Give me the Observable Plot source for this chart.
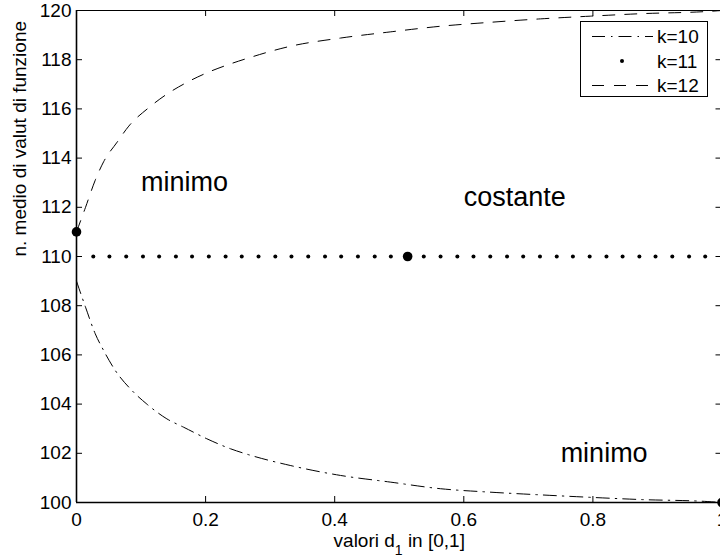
<!DOCTYPE html>
<html>
<head>
<meta charset="utf-8">
<script src="https://cdn.jsdelivr.net/npm/d3@7"></script>
<script src="https://cdn.jsdelivr.net/npm/@observablehq/plot@0.6"></script>
<style>
  html, body { margin: 0; padding: 0; background: #fff; overflow: hidden; }
  #chart { width: 720px; height: 559px; }
</style>
</head>
<body>
<div id="chart"></div>
<script>
// ---- data ----
const xTicks = [0, 0.2, 0.4, 0.6, 0.8, 1];
const xTickLabels = ["0", "0.2", "0.4", "0.6", "0.8", "1"];
const yTicks = [100, 102, 104, 106, 108, 110, 112, 114, 116, 118, 120];
const yTickLabels = ["100", "102", "104", "106", "108", "110", "112", "114", "116", "118", "120"];

const seriesNames = ["k=10", "k=11", "k=12"];

// k=12 (dashed, upper curve)
const k12X = [0, 0.014, 0.029, 0.042, 0.063, 0.081, 0.112, 0.140, 0.169, 0.205, 0.233, 0.264, 0.332, 0.409, 0.486, 0.564, 0.641, 0.719, 0.796, 0.874, 0.977, 1];
const k12Y = [111.0, 112.0, 113.1, 113.85, 114.65, 115.3, 116.05, 116.6, 117.05, 117.5, 117.78, 118.05, 118.55, 118.88, 119.13, 119.36, 119.52, 119.66, 119.77, 119.87, 119.96, 120];

// k=10 (dash-dot, lower curve)
const k10X = [0, 0.004, 0.014, 0.029, 0.042, 0.060, 0.086, 0.109, 0.140, 0.166, 0.202, 0.239, 0.262, 0.332, 0.409, 0.486, 0.564, 0.641, 0.719, 0.796, 0.874, 0.977, 1];
const k10Y = [109.0, 108.69, 107.94, 106.86, 106.18, 105.37, 104.55, 104.0, 103.4, 103.06, 102.59, 102.18, 101.98, 101.5, 101.1, 100.83, 100.56, 100.42, 100.31, 100.21, 100.12, 100.04, 100];

// k=11 (dotted, constant)
const k11X = [0.026, 0.051, 0.077, 0.103, 0.128, 0.154, 0.179, 0.205, 0.231, 0.256, 0.282, 0.308, 0.333, 0.359, 0.385, 0.410, 0.436, 0.462, 0.487, 0.513, 0.538, 0.564, 0.590, 0.615, 0.641, 0.667, 0.692, 0.718, 0.744, 0.769, 0.795, 0.821, 0.846, 0.872, 0.897, 0.923, 0.949, 0.974, 1.000];
const k11Y = [110, 110, 110, 110, 110, 110, 110, 110, 110, 110, 110, 110, 110, 110, 110, 110, 110, 110, 110, 110, 110, 110, 110, 110, 110, 110, 110, 110, 110, 110, 110, 110, 110, 110, 110, 110, 110, 110, 110];

// highlighted optima (big dots)
const optX = [0, 0.513, 1];
const optY = [111, 110, 100];

// annotations
const annLabels = ["minimo", "costante", "minimo"];
const annX = [0.1, 0.6, 0.75];
const annY = [113, 112.4, 102];

const xLabel = "valori d1 in [0,1]";
const yLabel = "n. medio di valut di funzione";

// ---- build tables ----
const k12 = k12X.map((x, i) => ({x, y: k12Y[i]}));
const k10 = k10X.map((x, i) => ({x, y: k10Y[i]}));
const k11 = k11X.map((x, i) => ({x, y: k11Y[i]}));
const opt = optX.map((x, i) => ({x, y: optY[i]}));
const ann = annLabels.map((t, i) => ({t, x: annX[i], y: annY[i]}));

const W = 720, H = 559;
const mL = 76, mR = -1.5, mT = 10, mB = 57;
const frameW = W - mL - mR, frameH = H - mT - mB;
const tickLen = 6;
const font = "'Liberation Sans', Arial, Helvetica, sans-serif";

const dashDot = "13,6,1.5,6";
const dashed = "12,10";

const chart = Plot.plot({
  width: W,
  height: H,
  marginLeft: mL,
  marginRight: mR,
  marginTop: mT,
  marginBottom: mB,
  style: {fontFamily: font, fontSize: "19px", background: "white", color: "black"},
  x: {domain: [0, 1]},
  y: {domain: [100, 120]},
  marks: [
    Plot.frame({stroke: "black", strokeWidth: 1}),
    // inward ticks
    Plot.ruleX(xTicks, {x: d => d, insetTop: frameH - tickLen, stroke: "black", strokeWidth: 1}),
    Plot.ruleX(xTicks, {x: d => d, insetBottom: frameH - tickLen, stroke: "black", strokeWidth: 1}),
    Plot.ruleY(yTicks, {y: d => d, insetRight: frameW - tickLen, stroke: "black", strokeWidth: 1}),
    Plot.ruleY(yTicks, {y: d => d, insetLeft: frameW - tickLen, stroke: "black", strokeWidth: 1}),
    // heavier left and bottom axis lines
    Plot.ruleX([0], {stroke: "black", strokeWidth: 1.6}),
    Plot.ruleY([100], {stroke: "black", strokeWidth: 1.6}),
    Plot.axisX({ticks: xTicks, tickSize: 0, tickPadding: 10, tickFormat: (d, i) => xTickLabels[i], label: null, fontSize: 19}),
    Plot.axisY({ticks: yTicks, tickSize: 0, tickPadding: 5, tickFormat: (d, i) => yTickLabels[i], label: null, fontSize: 19}),
    // axis titles
    Plot.text([xLabel], {frameAnchor: "bottom", dy: 38.6, text: d => d, fontSize: 19, lineAnchor: "middle"}),
    Plot.text([yLabel], {frameAnchor: "left", dx: -57, rotate: -90, text: d => d, fontSize: 19, lineAnchor: "middle"}),
    // series
    Plot.line(k10, {x: "x", y: "y", curve: "monotone-x", stroke: "black", strokeWidth: 1, strokeDasharray: dashDot}),
    Plot.line(k12, {x: "x", y: "y", curve: "monotone-x", stroke: "black", strokeWidth: 1, strokeDasharray: dashed}),
    Plot.dot(k11, {x: "x", y: "y", r: 2, fill: "black", stroke: null}),
    Plot.dot(opt, {x: "x", y: "y", r: 4.8, fill: "black", stroke: null}),
    // annotations
    Plot.text(ann, {x: "x", y: "y", text: "t", textAnchor: "start", lineAnchor: "middle", fontSize: 27})
  ]
});

document.getElementById("chart").appendChild(chart);

// subscript in x label
const svg = d3.select(chart);
svg.selectAll("text").each(function() {
  if (this.textContent === xLabel) {
    const t = d3.select(this);
    t.text(null);
    t.append("tspan").text("valori d");
    t.append("tspan").attr("dy", 8).attr("font-size", 14).text("1");
    t.append("tspan").attr("dy", -8).text(" in [0,1]");
  }
});

// legend box (top-right)
const lg = svg.append("g").attr("font-family", font).attr("font-size", 19).attr("text-anchor", "start");
lg.append("rect").attr("x", 580.5).attr("y", 21.5).attr("width", 127).attr("height", 75)
  .attr("fill", "white").attr("stroke", "black").attr("stroke-width", 1);
const rows = [36.5, 61, 85.5];
lg.append("line").attr("x1", 592).attr("x2", 653).attr("y1", rows[0]).attr("y2", rows[0])
  .attr("stroke", "black").attr("stroke-dasharray", dashDot);
lg.append("circle").attr("cx", 622).attr("cy", rows[1]).attr("r", 2).attr("fill", "black");
lg.append("line").attr("x1", 592).attr("x2", 653).attr("y1", rows[2]).attr("y2", rows[2])
  .attr("stroke", "black").attr("stroke-dasharray", dashed);
seriesNames.forEach((s, i) => {
  lg.append("text").attr("x", 657).attr("y", rows[i]).attr("dy", "0.35em")
    .attr("text-anchor", "start").text(s);
});
</script>
</body>
</html>
